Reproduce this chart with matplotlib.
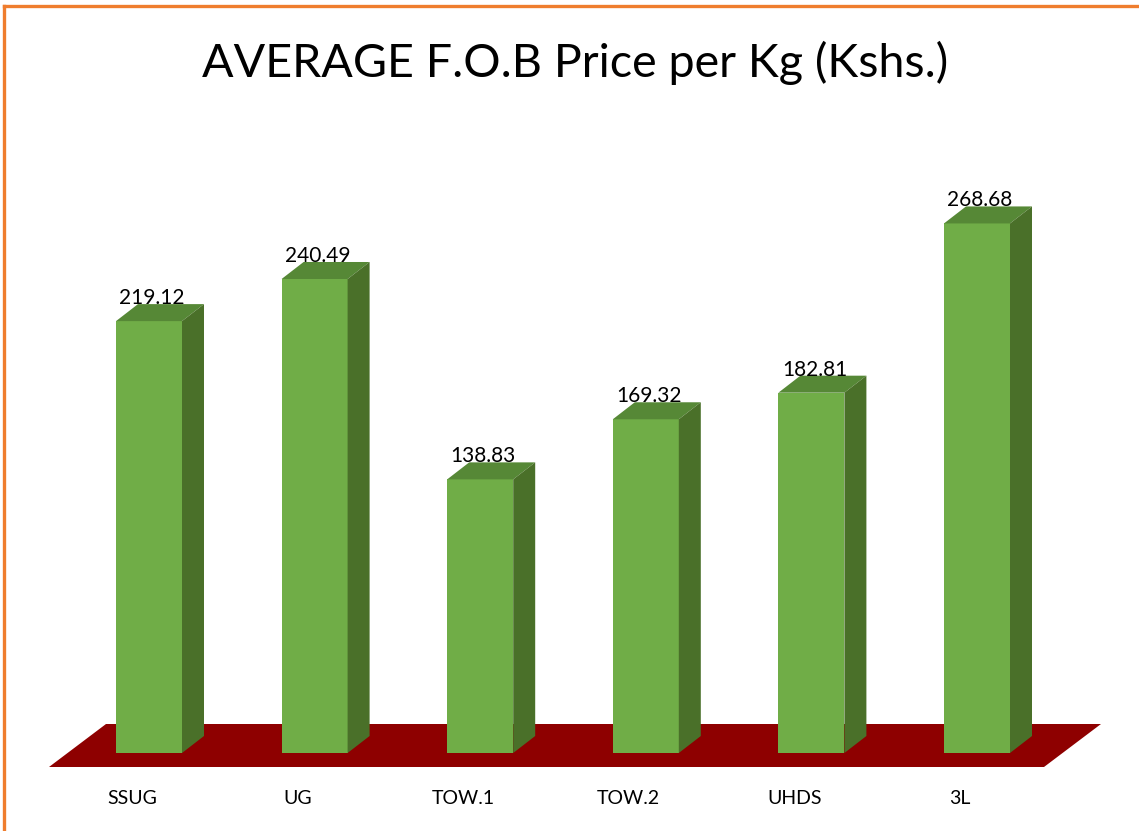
import matplotlib
matplotlib.use("Agg")
import matplotlib.pyplot as plt
from matplotlib.patches import Polygon
from matplotlib.lines import Line2D

categories = ["SSUG", "UG", "TOW.1", "TOW.2", "UHDS", "3L"]
values = [219.12, 240.49, 138.83, 169.32, 182.81, 268.68]
title = "AVERAGE F.O.B Price per Kg (Kshs.)"

plt.rcParams['font.family'] = ['Lato', 'DejaVu Sans']

W, H = 1139, 831
fig = plt.figure(figsize=(W / 100, H / 100), dpi=100)
ax = fig.add_axes([0, 0, 1, 1])

# pixel scale: 165.6 px per category, 1.971 px per value unit
px_x = 165.6
px_y = 1.971
ax.set_xlim(-149 / px_x, (W - 149) / px_x)
ax.set_ylim(-78 / px_y, (H - 78) / px_y)
ax.axis('off')

front = "#70AD47"
top_c = "#568836"
side_c = "#4A7029"
floor_c = "#8E0000"

# depth offsets (data units)
bdx, bdy = 22 / px_x, 17 / px_y
fdx, fdy = 57 / px_x, 43 / px_y
floor_front_y = -14 / px_y
floor_left = (49 - 149) / px_x
floor_right = (1044 - 149) / px_x

floor = Polygon([(floor_left, floor_front_y), (floor_right, floor_front_y),
                 (floor_right + fdx, floor_front_y + fdy),
                 (floor_left + fdx, floor_front_y + fdy)],
                closed=True, facecolor=floor_c, edgecolor='none', zorder=1)
ax.add_patch(floor)

width = 66 / px_x
xs = list(range(len(categories)))
bars = ax.bar(xs, values, width=width, color=front, edgecolor='none', zorder=3)
for b, v in zip(bars, values):
    x0 = b.get_x()
    x1 = x0 + b.get_width()
    top = Polygon([(x0, v), (x1, v), (x1 + bdx, v + bdy), (x0 + bdx, v + bdy)],
                  closed=True, facecolor=top_c, edgecolor='none', zorder=3)
    side = Polygon([(x1, 0), (x1 + bdx, bdy), (x1 + bdx, v + bdy), (x1, v)],
                   closed=True, facecolor=side_c, edgecolor='none', zorder=3)
    ax.add_patch(top)
    ax.add_patch(side)
    ax.text(b.get_x() + b.get_width() / 2 + 3 / px_x, v + bdy, f"{v:.2f}",
            ha='center', va='baseline', fontsize=15, color='black', zorder=5)

label_y = (H - 798 - 78) / px_y
for i, c in enumerate(categories):
    ax.text(i - 17 / px_x, label_y, c, ha='center', va='center',
            fontsize=14, color='black')

fig.text(575 / W, (H - 77) / H, title, ha='center', va='baseline',
         fontsize=33.6, color='black')

# orange border (top and left edges visible)
fig.add_artist(Line2D([4 / W, 1.0], [1 - 5.5 / H, 1 - 5.5 / H],
                      transform=fig.transFigure, color="#EF7D2E", lw=2.4))
fig.add_artist(Line2D([4 / W, 4 / W], [0.0, 1 - 5.5 / H],
                      transform=fig.transFigure, color="#EF7D2E", lw=2.4))

fig.savefig("out.png", dpi=100, facecolor='white')
